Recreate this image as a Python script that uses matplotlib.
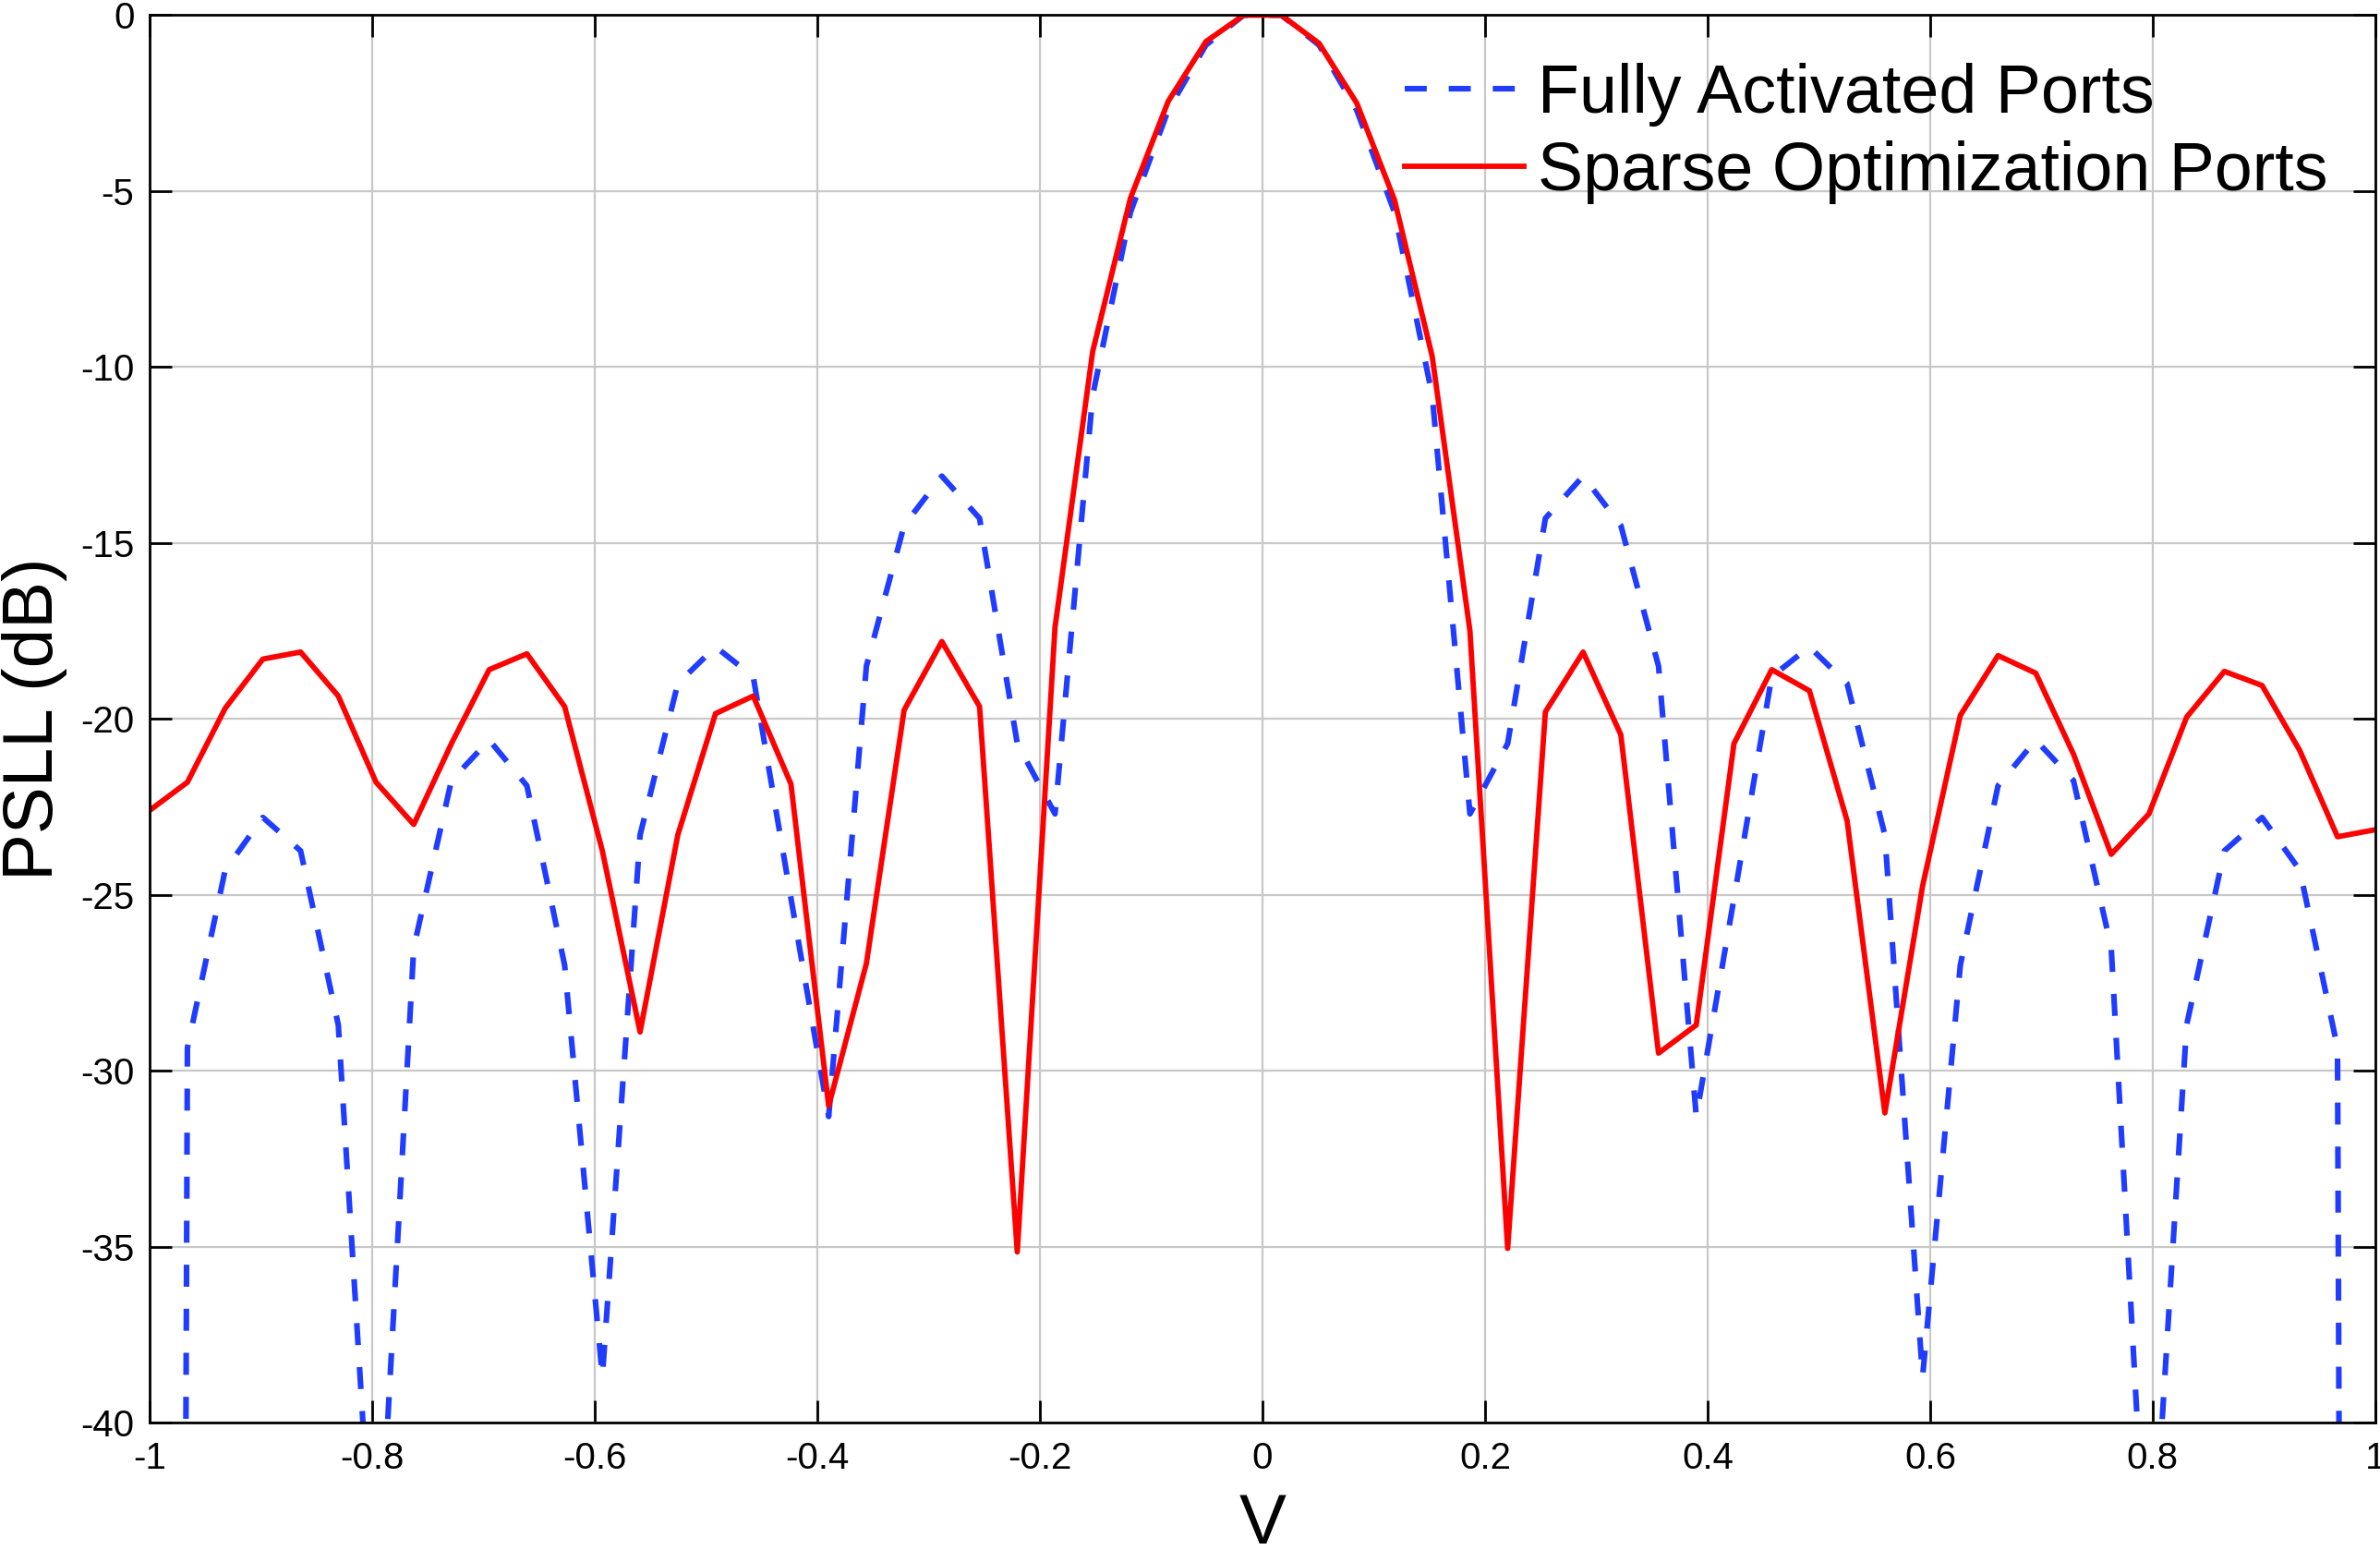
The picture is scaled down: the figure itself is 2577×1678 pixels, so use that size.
import numpy as np
import matplotlib
matplotlib.use('Agg')
import matplotlib.pyplot as plt

plt.rcParams['font.family'] = ['Liberation Sans', 'DejaVu Sans']

# 60 sample points across V in [-1, 1]
v = np.linspace(-1, 1, 60)

# values (dB); ends of the blue curve are deep nulls
fully_activated = [
    -300, -29.35, -24.3, -22.8, -23.75, -28.7, -46.0, -26.5, -21.75, -20.6,
    -21.9, -27.0, -38.7, -23.3, -19.0, -17.95, -18.8, -25.1, -31.3, -18.5,
    -14.5, -13.1, -14.3, -20.7, -22.7, -10.8, -5.6, -2.7, -0.85, 0.0,
    0.0, -0.85, -2.7, -5.6, -10.8, -22.7, -20.7, -14.3, -13.1, -14.5,
    -18.5, -31.3, -25.1, -18.8, -17.95, -19.0, -23.3, -38.7, -27.0, -21.9,
    -20.6, -21.75, -26.5, -46.0, -28.7, -23.75, -22.8, -24.3, -29.35, -300,
]
sparse_optimized = [
    -22.6, -21.8, -19.7, -18.3, -18.1, -19.35, -21.8, -23.0, -20.7, -18.6,
    -18.15, -19.65, -23.75, -28.9, -23.3, -19.85, -19.35, -21.85, -31.0, -26.95,
    -19.75, -17.8, -19.65, -35.15, -17.4, -9.55, -5.2, -2.45, -0.75, 0.0,
    0.0, -0.8, -2.5, -5.25, -9.7, -17.5, -35.05, -19.8, -18.1, -20.45,
    -29.5, -28.7, -20.7, -18.6, -19.2, -22.9, -31.2, -24.75, -19.9, -18.2,
    -18.7, -21.0, -23.85, -22.7, -19.95, -18.65, -19.05, -20.9, -23.35, -23.15,
]

x_ticks = [-1, -0.8, -0.6, -0.4, -0.2, 0, 0.2, 0.4, 0.6, 0.8, 1]
x_tick_labels = ['-1', '-0.8', '-0.6', '-0.4', '-0.2', '0', '0.2', '0.4', '0.6', '0.8', '1']
y_ticks = [-40, -35, -30, -25, -20, -15, -10, -5, 0]
y_tick_labels = ['-40', '-35', '-30', '-25', '-20', '-15', '-10', '-5', '0']

fig = plt.figure(figsize=(25.77, 16.78), dpi=100)
ax = fig.add_axes([0.0629, 0.0822, 0.9351, 0.908])

ax.plot(v, fully_activated, color='#1f3cff', linewidth=4.4, linestyle=(0, (3.9, 3.9)),
        label='Fully Activated Ports')
ax.plot(v, sparse_optimized, color='#ff0000', linewidth=4.2, label='Sparse Optimization Ports')

ax.set_xlim(-1, 1)
ax.set_ylim(-40, 0)
ax.set_xticks(x_ticks)
ax.set_xticklabels(x_tick_labels)
ax.set_yticks(y_ticks)
ax.set_yticklabels(y_tick_labels)

ax.grid(True, color='#c8c8c8', linewidth=1.6)
ax.set_axisbelow(True)
for s in ax.spines.values():
    s.set_linewidth(2.0)
ax.tick_params(direction='in', length=17, width=2, labelsize=29, top=True, right=True, pad=12)
ax.tick_params(axis='x', pad=14)

ax.set_xlabel('V', fontsize=55, labelpad=13)
ax.set_ylabel('PSLL (dB)', fontsize=55, labelpad=10)

leg = ax.legend(loc='upper right', bbox_to_anchor=(1.0, 1.0), frameon=False, fontsize=53,
                handlelength=1.75, handletextpad=0.2, labelspacing=0.2, borderaxespad=0.3)

fig.savefig('out.png', dpi=100)
